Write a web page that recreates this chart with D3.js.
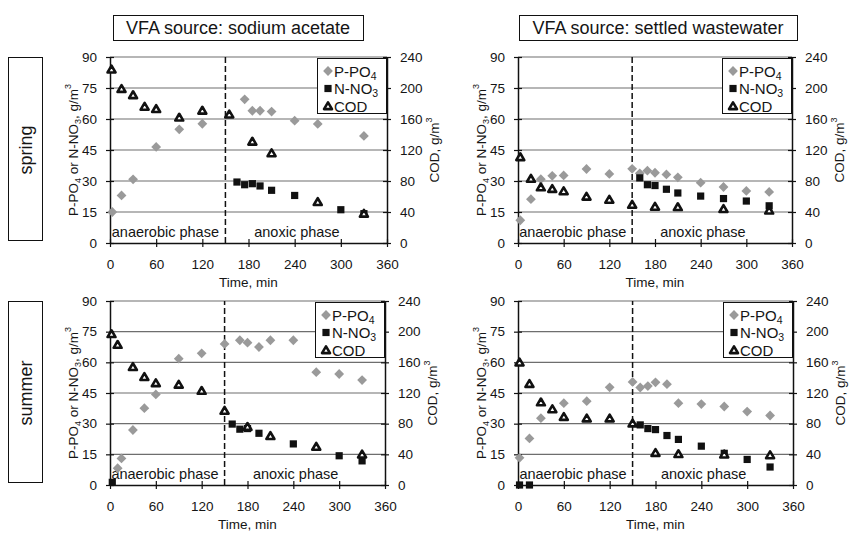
<!DOCTYPE html>
<html>
<head>
<meta charset="utf-8">
<script src="https://cdn.jsdelivr.net/npm/d3@7"></script>
<style>
  body { margin: 0; background: #fff; }
  svg { font-family: "Liberation Sans", Arial, sans-serif; }
</style>
</head>
<body>
<div id="chart"></div>
<script>
// tick labels
const timeTicks = [0, 60, 120, 180, 240, 300, 360]
const concTicks = [0, 15, 30, 45, 60, 75, 90]
const codTicks = [0, 40, 80, 120, 160, 200, 240]

const columnTitles = ["VFA source: sodium acetate", "VFA source: settled wastewater"]
const rowTitles = ["spring", "summer"]
const phaseSwitch = 150
const phaseLabels = [{ text: "anaerobic phase", t: 72 }, { text: "anoxic phase", t: 243 }]

// [time (min), value]
const springAcetatePO4 = [[3, 15], [15, 23], [30, 30.8], [60, 46.5], [90, 55], [120, 57.7], [175, 69.5], [185, 64], [195, 64], [210, 63.6], [240, 59.2], [270, 57.6], [330, 51.8]]
const springAcetateNO3 = [[165, 29.5], [175, 28.2], [185, 28.7], [195, 27.6], [210, 25.5], [240, 23], [300, 16.1], [330, 14.2]]
const springAcetateCOD = [[2, 224], [15, 199], [30, 191], [45, 176], [60, 173], [90, 162], [120, 171], [155, 166], [185, 131], [210, 116], [270, 53], [330, 38]]

const springWastewaterPO4 = [[3, 11], [17, 21.2], [30, 30.9], [45, 32.5], [60, 32.7], [90, 35.8], [120, 33.4], [150, 35.9], [160, 33.7], [170, 35], [180, 34], [195, 33.2], [210, 31.8], [240, 29.2], [270, 27.1], [300, 25.2], [330, 24.7]]
const springWastewaterNO3 = [[160, 31.5], [170, 28.2], [180, 27.8], [195, 26], [210, 24.2], [240, 22.7], [270, 21.5], [300, 20.3], [330, 18]]
const springWastewaterCOD = [[3, 111], [17, 83], [30, 72], [45, 70], [60, 67], [90, 60], [120, 56], [150, 49.5], [180, 47], [210, 46.5], [270, 44], [330, 42]]

const summerAcetatePO4 = [[10, 8.2], [15, 13], [30, 26.9], [45, 37.6], [60, 44.3], [90, 61.8], [120, 64.4], [150, 69], [170, 70.8], [180, 69.6], [195, 67.5], [210, 70.8], [240, 70.8], [270, 55.2], [300, 54.3], [330, 51.3]]
const summerAcetateNO3 = [[3, 1.3], [160, 29.8], [170, 27.3], [180, 27.6], [195, 25.3], [240, 20.1], [300, 14.3], [330, 11.8]]
const summerAcetateCOD = [[2, 197], [10, 183], [30, 154], [45, 141], [60, 133], [90, 131], [120, 123], [150, 97], [180, 76], [210, 64], [270, 50], [330, 40]]

const summerWastewaterPO4 = [[2, 13.3], [15, 22.8], [30, 32.7], [60, 40], [90, 41], [120, 47.8], [150, 50.4], [160, 47.7], [170, 48.4], [180, 50.2], [195, 49.3], [210, 40], [240, 39.6], [270, 38.4], [300, 35.9], [330, 34]]
const summerWastewaterNO3 = [[2, 0], [15, 0], [160, 29.4], [170, 27.6], [180, 27.1], [195, 24.2], [210, 22.3], [240, 19], [270, 15.5], [300, 12.5], [330, 8.8]]
const summerWastewaterCOD = [[2, 160], [15, 132], [30, 108], [45, 99], [60, 89], [90, 87], [120, 87], [150, 80.5], [180, 42], [210, 40.5], [270, 40], [330, 39]]

const width = 849, height = 537
const textColor = "#151515"
const grey = "#9a9a9a"

const panels = [
   { x0: 110, x1: 387, y0: 57, y1: 243, po4: springAcetatePO4, no3: springAcetateNO3, cod: springAcetateCOD },
   { x0: 518, x1: 792, y0: 57, y1: 243, po4: springWastewaterPO4, no3: springWastewaterNO3, cod: springWastewaterCOD },
   { x0: 110, x1: 385, y0: 301, y1: 485, po4: summerAcetatePO4, no3: summerAcetateNO3, cod: summerAcetateCOD },
   { x0: 518, x1: 793, y0: 301, y1: 485, po4: summerWastewaterPO4, no3: summerWastewaterNO3, cod: summerWastewaterCOD }
]

const diamond = "M0,-4.9L4.9,0L0,4.9L-4.9,0Z"
const square = "M-3.6,-3.6H3.6V3.6H-3.6Z"
const triangle = "M0,-3.7L4,3.1L-4,3.1Z"

const svg = d3.create("svg")
   .attr("width", width)
   .attr("height", height)
   .attr("viewBox", [0, 0, width, height])

// column headers
const headerBoxes = [{ x: 113, w: 250 }, { x: 519, w: 278 }]
columnTitles.forEach((t, i) => {
   const b = headerBoxes[i]
   svg.append("rect").attr("x", b.x + 0.5).attr("y", 15.5).attr("width", b.w).attr("height", 25)
      .attr("fill", "none").attr("stroke", "#111").attr("stroke-width", 1)
   svg.append("text").attr("x", b.x + b.w / 2).attr("y", 34)
      .attr("text-anchor", "middle").attr("font-size", 18).attr("fill", textColor).text(t)
})

// row labels
rowTitles.forEach((t, i) => {
   const p = panels[i * 2]
   svg.append("rect").attr("x", 8.5).attr("y", p.y0 + 0.5).attr("width", 34).attr("height", p.y1 - p.y0 - 3)
      .attr("fill", "none").attr("stroke", "#111").attr("stroke-width", 1)
   svg.append("text")
      .attr("transform", `translate(32,${(p.y0 + p.y1) / 2}) rotate(-90)`)
      .attr("text-anchor", "middle").attr("font-size", 18).attr("fill", textColor).text(t)
})

function concTitle(sel) {
   sel.append("tspan").text("P-PO")
   sel.append("tspan").attr("font-size", 9).attr("dy", 3).text("4")
   sel.append("tspan").attr("dy", -3).text(" or N-NO")
   sel.append("tspan").attr("font-size", 9).attr("dy", 3).text("3")
   sel.append("tspan").attr("dy", -3).text(", g/m")
   sel.append("tspan").attr("font-size", 9).attr("dy", -7).text("3")
}

function codTitle(sel) {
   sel.append("tspan").text("COD, g/m")
   sel.append("tspan").attr("font-size", 9).attr("dy", -7).text("3")
}

panels.forEach(p => {
   const x = d3.scaleLinear().domain([0, 360]).range([p.x0, p.x1])
   const yL = d3.scaleLinear().domain([0, 90]).range([p.y1, p.y0])
   const yR = d3.scaleLinear().domain([0, 240]).range([p.y1, p.y0])
   const g = svg.append("g")

   // gridlines
   g.append("g").attr("stroke", "#6e6e6e").attr("stroke-width", 1.1)
      .selectAll("line").data(concTicks.filter(d => d > 0)).join("line")
      .attr("x1", p.x0).attr("x2", p.x1)
      .attr("y1", d => yL(d)).attr("y2", d => yL(d))

   // phase switch
   g.append("line")
      .attr("x1", x(phaseSwitch)).attr("x2", x(phaseSwitch))
      .attr("y1", yL(0)).attr("y2", yL(90))
      .attr("stroke", "#111").attr("stroke-width", 1.5).attr("stroke-dasharray", "6,3")

   g.append("g").attr("font-size", 14.5).attr("fill", textColor).attr("text-anchor", "middle")
      .selectAll("text").data(phaseLabels).join("text")
      .attr("x", d => x(d.t)).attr("y", yL(0) - 6)
      .text(d => d.text)

   // axes
   const axisStyle = ax => {
      ax.select(".domain").attr("stroke", "#111").attr("stroke-width", 1.5)
      ax.selectAll(".tick line").attr("stroke", "#111").attr("stroke-width", 1.2)
      ax.selectAll(".tick text").attr("fill", textColor).attr("font-size", 13.5)
      ax.attr("font-family", null)
   }

   g.append("g").attr("transform", `translate(${p.x0},0)`)
      .call(d3.axisLeft(yL).tickValues(concTicks).tickSize(4).tickPadding(9).tickSizeOuter(0))
      .call(axisStyle)
      .call(ax => ax.selectAll(".tick line").attr("x1", 4))

   g.append("g").attr("transform", `translate(${p.x1},0)`)
      .call(d3.axisRight(yR).tickValues(codTicks).tickSize(4).tickPadding(9).tickSizeOuter(0))
      .call(axisStyle)
      .call(ax => ax.selectAll(".tick line").attr("x1", -4))

   g.append("g").attr("transform", `translate(0,${p.y1})`)
      .call(d3.axisBottom(x).tickValues(timeTicks).tickSize(4).tickPadding(12).tickSizeOuter(0))
      .call(axisStyle)
      .call(ax => ax.selectAll(".tick line").attr("y1", -4))

   // axis titles
   g.append("text").attr("font-size", 13.5).attr("fill", textColor).attr("text-anchor", "middle")
      .attr("x", (p.x0 + p.x1) / 2).attr("y", p.y1 + 44).text("Time, min")

   g.append("text").attr("font-size", 13.5).attr("fill", textColor).attr("text-anchor", "middle")
      .attr("transform", `translate(${p.x0 - 32},${(p.y0 + p.y1) / 2}) rotate(-90)`)
      .call(concTitle)

   g.append("text").attr("font-size", 13.5).attr("fill", textColor).attr("text-anchor", "middle")
      .attr("transform", `translate(${p.x1 + 52},${(p.y0 + p.y1) / 2}) rotate(-90)`)
      .call(codTitle)

   // marks
   g.append("g").selectAll("path").data(p.po4).join("path")
      .attr("transform", d => `translate(${x(d[0])},${yL(d[1])})`)
      .attr("d", diamond).attr("fill", grey)

   g.append("g").selectAll("path").data(p.no3).join("path")
      .attr("transform", d => `translate(${x(d[0])},${yL(d[1])})`)
      .attr("d", square).attr("fill", "#111")

   g.append("g").selectAll("path").data(p.cod).join("path")
      .attr("transform", d => `translate(${x(d[0])},${yR(d[1])})`)
      .attr("d", triangle).attr("fill", "#fff").attr("stroke", "#111")
      .attr("stroke-width", 2.6).attr("stroke-linejoin", "round")

   // legend
   const lx = p.x1 - 70, ly = p.y0 + 1
   const lg = g.append("g").attr("transform", `translate(${lx},${ly})`)
   lg.append("rect").attr("x", 0.5).attr("y", 0.5).attr("width", 69).attr("height", 55)
      .attr("fill", "#fff").attr("stroke", "#111").attr("stroke-width", 1)
   const items = [
      { d: diamond, fill: grey, stroke: "none", name: "P-PO", sub: "4" },
      { d: square, fill: "#111", stroke: "none", name: "N-NO", sub: "3" },
      { d: triangle, fill: "#fff", stroke: "#111", name: "COD", sub: "" }
   ]
   items.forEach((it, i) => {
      const cy = 13 + i * 17.5
      lg.append("path").attr("d", it.d).attr("transform", `translate(11,${cy})`)
         .attr("fill", it.fill).attr("stroke", it.stroke).attr("stroke-width", 2.6)
         .attr("stroke-linejoin", "round")
      const t = lg.append("text").attr("x", 17).attr("y", cy + 5.5).attr("font-size", 15).attr("fill", textColor)
      t.append("tspan").text(it.name)
      if (it.sub) t.append("tspan").attr("font-size", 10.5).attr("dy", 3).text(it.sub)
   })
})

d3.select("#chart").node().append(svg.node())
</script>
</body>
</html>
